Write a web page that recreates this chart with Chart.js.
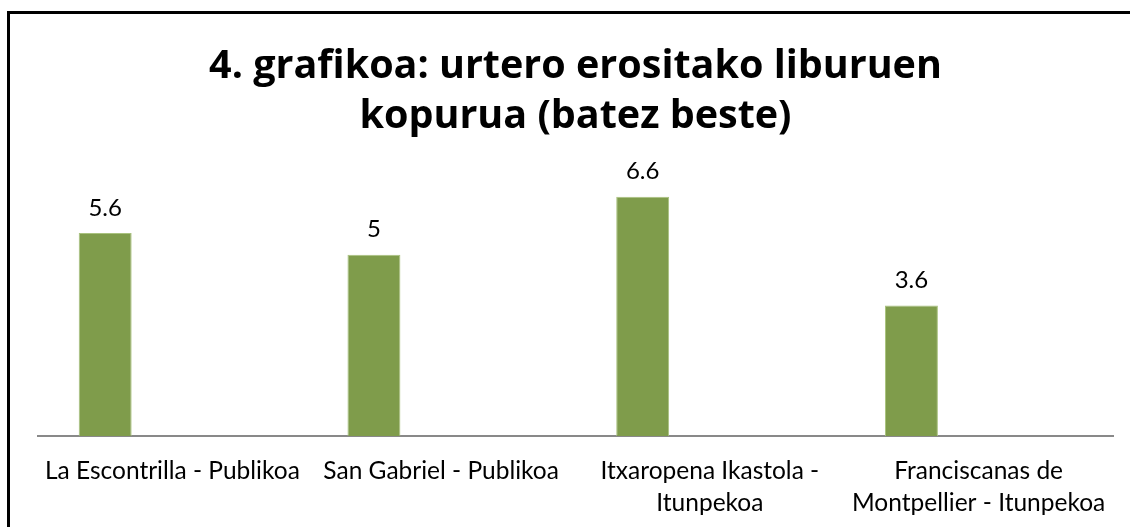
<!DOCTYPE html>
<html>
<head>
<meta charset="utf-8">
<script src="https://cdn.jsdelivr.net/npm/chart.js@4/dist/chart.umd.min.js"></script>
<style>
  html, body { margin: 0; padding: 0; background: #fff; }
  #wrap { position: relative; width: 1130px; height: 527px; overflow: hidden; }
  #frame {
    position: absolute; left: 7px; top: 11px; width: 1200px; height: 600px;
    border-top: 3px solid #000; border-left: 3px solid #000;
  }
  #bookChart { position: absolute; left: 0; top: 0; }
</style>
</head>
<body>
<div id="wrap">
  <div id="frame"></div>
  <canvas id="bookChart" width="1130" height="527"></canvas>
</div>
<script>
const categories = [
  'La Escontrilla - Publikoa',
  'San Gabriel - Publikoa',
  ['Itxaropena Ikastola -', 'Itunpekoa'],
  ['Franciscanas de', 'Montpellier - Itunpekoa'],
];
const booksPerYear = [5.6, 5, 6.6, 3.6];
// Excel left a second, empty series, so each bar sits in the left half of its slot
const emptySeries = [null, null, null, null];
const titleLines = ['4. grafikoa: urtero erositako liburuen', 'kopurua (batez beste)'];

const FONT = 'Lato, "Open Sans", sans-serif';
const TITLE_FONT = '"Open Sans", Lato, sans-serif';

// draws the value above every bar of the first dataset
const valueLabels = {
  id: 'valueLabels',
  afterDatasetsDraw(chart) {
    const { ctx } = chart;
    const meta = chart.getDatasetMeta(0);
    ctx.save();
    ctx.font = `24px ${FONT}`;
    ctx.fillStyle = '#000';
    ctx.textAlign = 'center';
    ctx.textBaseline = 'middle';
    meta.data.forEach((bar, i) => {
      ctx.fillText(String(booksPerYear[i]), bar.x, bar.y - 25);
    });
    ctx.restore();
  },
};

new Chart(document.getElementById('bookChart'), {
  type: 'bar',
  data: {
    labels: categories,
    datasets: [
      {
        label: 'Liburuak',
        data: booksPerYear,
        backgroundColor: '#7f9c4b',
        borderColor: '#a9c27e',
        borderWidth: 1,
        categoryPercentage: 1.0,
        barPercentage: 0.394,
      },
      {
        label: '',
        data: emptySeries,
        backgroundColor: 'transparent',
        categoryPercentage: 1.0,
        barPercentage: 0.394,
      },
    ],
  },
  options: {
    responsive: false,
    animation: false,
    events: [],
    layout: { padding: { left: 38, right: 17, top: 0, bottom: 0 } },
    scales: {
      x: {
        grid: { display: false, drawTicks: false },
        border: { display: true, color: '#898989', width: 2 },
        ticks: {
          color: '#000',
          font: { family: FONT, size: 24.5, lineHeight: '32px' },
          padding: 19,
          autoSkip: false,
          maxRotation: 0,
          minRotation: 0,
        },
        afterFit(scale) { scale.height = 91; },
      },
      y: {
        display: false,
        min: 0,
        max: 8,
      },
    },
    plugins: {
      legend: { display: false },
      tooltip: { enabled: false },
      title: {
        display: true,
        text: titleLines,
        color: '#000',
        font: { family: TITLE_FONT, size: 39.5, weight: 'bold', lineHeight: '50px' },
        padding: { top: 42, bottom: 4 },
      },
    },
  },
  plugins: [valueLabels],
});
</script>
</body>
</html>
